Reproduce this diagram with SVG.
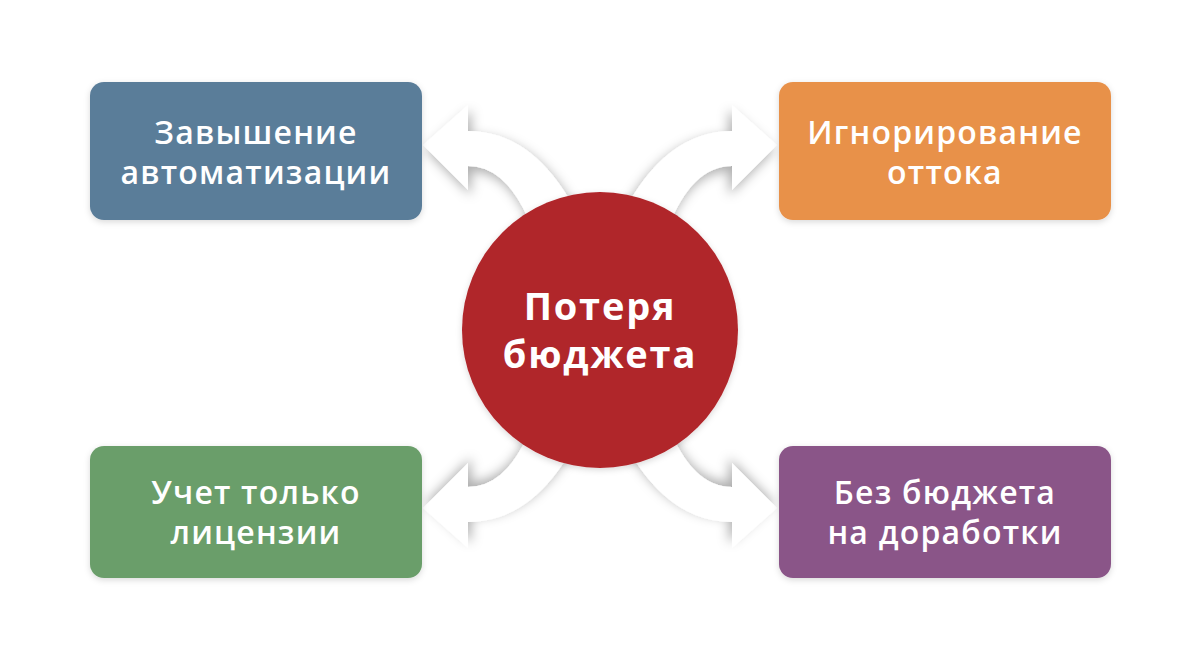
<svg xmlns="http://www.w3.org/2000/svg" width="1200" height="655" viewBox="0 0 1200 655">
<defs>
<filter id="sh" x="-30%" y="-30%" width="160%" height="160%">
<feDropShadow dx="3" dy="5" stdDeviation="6" flood-color="#000" flood-opacity="0.32"/>
</filter>
<filter id="bs" x="-10%" y="-10%" width="120%" height="130%">
<feDropShadow dx="0" dy="2" stdDeviation="3" flood-color="#000" flood-opacity="0.15"/>
</filter>
<path id="arr" d="M423,145 L468,105 L468,131 Q535,131 578,215 L532,228 Q508,166 468,166 L468,190 Z"/>
</defs>
<style>
.bt{font-family:"Open Sans","DejaVu Sans",sans-serif;font-weight:600;font-size:32px;letter-spacing:1.2px;fill:#fff;text-anchor:middle}
.ct{font-family:"Open Sans","DejaVu Sans",sans-serif;font-weight:700;font-size:38px;letter-spacing:1.8px;fill:#fff;text-anchor:middle}
.a{fill:#fff;filter:url(#sh)}
</style>
<rect width="1200" height="655" fill="#fff"/>
<g id="connectors">
<use href="#arr" class="a"/>
<use href="#arr" class="a" transform="translate(1200,0) scale(-1,1)"/>
<use href="#arr" class="a" transform="translate(0,653) scale(1,-1)"/>
<use href="#arr" class="a" transform="translate(1200,653) scale(-1,-1)"/>
</g>
<g id="n1">
<rect x="90" y="82" width="332" height="138" rx="14" fill="#5a7d99" filter="url(#bs)"/>
<text class="bt" x="256" y="144">Завышение</text>
<text class="bt" x="256" y="184">автоматизации</text>
</g>
<g id="n2">
<rect x="779" y="82" width="332" height="138" rx="14" fill="#e8914a" filter="url(#bs)"/>
<text class="bt" x="945" y="144">Игнорирование</text>
<text class="bt" x="945" y="184">оттока</text>
</g>
<g id="n3">
<rect x="90" y="446" width="332" height="132" rx="14" fill="#6b9e6b" filter="url(#bs)"/>
<text class="bt" x="256" y="504">Учет только</text>
<text class="bt" x="256" y="544">лицензии</text>
</g>
<g id="n4">
<rect x="779" y="446" width="332" height="132" rx="14" fill="#8a5588" filter="url(#bs)"/>
<text class="bt" x="945" y="504">Без бюджета</text>
<text class="bt" x="945" y="544">на доработки</text>
</g>
<g id="center">
<circle cx="600" cy="330" r="138" fill="#b0252a" filter="url(#bs)"/>
<text class="ct" x="600" y="320">Потеря</text>
<text class="ct" x="600" y="368">бюджета</text>
</g>
</svg>
